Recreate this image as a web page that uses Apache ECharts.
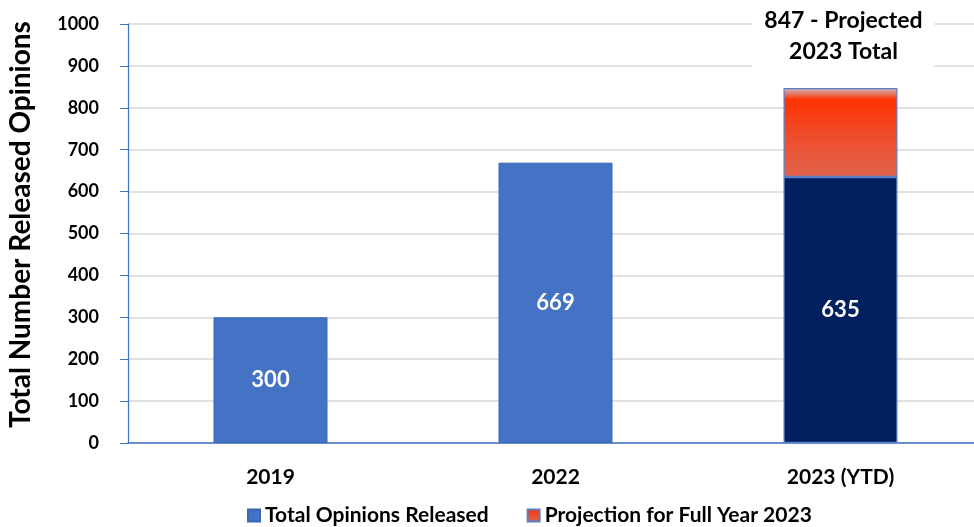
<!DOCTYPE html>
<html>
<head>
<meta charset="utf-8">
<script src="https://cdn.jsdelivr.net/npm/echarts@6/dist/echarts.min.js"></script>
<style>
  html, body { margin: 0; padding: 0; background: #ffffff; }
  #chart { width: 974px; height: 527px; }
</style>
</head>
<body>
<div id="chart"></div>
<script>
// Released opinions by year
var categories = ['2019', '2022', '2023 (YTD)'];
var releasedOpinions = [300, 669, 635];
var projectedTotal2023 = 847;
var yTicks = [0, 100, 200, 300, 400, 500, 600, 700, 800, 900, 1000];

var FONT = 'Lato, "Open Sans", sans-serif';
var projectionRemainder = projectedTotal2023 - releasedOpinions[2];

var projectionGradient = new echarts.graphic.LinearGradient(0, 0, 0, 1, [
  { offset: 0, color: '#CFBCC6' },
  { offset: 0.13, color: '#FF3300' },
  { offset: 0.5, color: '#F04A28' },
  { offset: 1, color: '#E0654F' }
]);

var chart = echarts.init(document.getElementById('chart'), null, { renderer: 'canvas' });

chart.setOption({
  animation: false,
  backgroundColor: '#ffffff',
  textStyle: { fontFamily: FONT },
  // plot area runs a little past the right edge of the canvas
  grid: { left: 128, width: 855, top: 24, bottom: 84, containLabel: false, outerBoundsMode: 'none' },
  legend: {
    top: 500,
    left: 242,
    itemWidth: 12,
    itemHeight: 12,
    itemGap: 38,
    icon: 'rect',
    textStyle: { fontFamily: FONT, fontWeight: 'bold', fontSize: 21, color: '#000000' },
    data: ['Total Opinions Released', 'Projection for Full Year 2023']
  },
  xAxis: {
    type: 'category',
    data: categories,
    axisLine: { show: true, lineStyle: { color: '#4472C4', width: 1.5 } },
    axisTick: { show: false },
    axisLabel: { margin: 24, fontFamily: FONT, fontWeight: 'bold', fontSize: 21, color: '#000000' }
  },
  yAxis: {
    type: 'value',
    min: yTicks[0],
    max: yTicks[yTicks.length - 1],
    interval: yTicks[1] - yTicks[0],
    name: 'Total Number Released Opinions',
    nameLocation: 'middle',
    nameGap: 93,
    nameTextStyle: {
      fontFamily: FONT,
      fontWeight: 'bold',
      fontSize: 28,
      color: '#000000',
      padding: [0, 0, 0, 18]
    },
    axisLine: { show: true, lineStyle: { color: '#4472C4', width: 1.2 } },
    axisTick: { show: true, length: 8, lineStyle: { color: '#4472C4' } },
    axisLabel: {
      margin: 29,
      fontFamily: FONT,
      fontWeight: 'bold',
      fontSize: 18,
      color: '#000000',
      formatter: function (v) { return String(v); }
    },
    splitLine: { show: true, lineStyle: { color: '#D9D9D9', width: 1.5 } }
  },
  series: [
    {
      name: 'Total Opinions Released',
      type: 'bar',
      stack: 'total',
      barWidth: 114,
      itemStyle: { color: '#4472C4', borderColor: '#3A66B4', borderWidth: 1 },
      label: {
        show: true,
        position: 'inside',
        fontFamily: FONT,
        fontWeight: 'bold',
        fontSize: 22,
        color: '#ffffff'
      },
      data: releasedOpinions.map(function (v, i) {
        if (i === 2) {
          return { value: v, itemStyle: { color: '#002060', borderColor: '#5B7FC4', borderWidth: 1.2 } };
        }
        return v;
      })
    },
    {
      name: 'Projection for Full Year 2023',
      type: 'bar',
      stack: 'total',
      barWidth: 114,
      itemStyle: { color: projectionGradient, borderColor: '#5B7FC4', borderWidth: 1.2 },
      label: {
        show: true,
        position: 'top',
        distance: 17,
        formatter: function () {
          return projectedTotal2023 + ' - Projected\n2023 Total';
        },
        fontFamily: FONT,
        fontWeight: 'bold',
        fontSize: 23,
        lineHeight: 31,
        color: '#000000',
        backgroundColor: '#ffffff',
        padding: [4, 12, 4, 12],
        offset: [3, 0]
      },
      data: ['-', '-', projectionRemainder]
    }
  ]
});
</script>
</body>
</html>
